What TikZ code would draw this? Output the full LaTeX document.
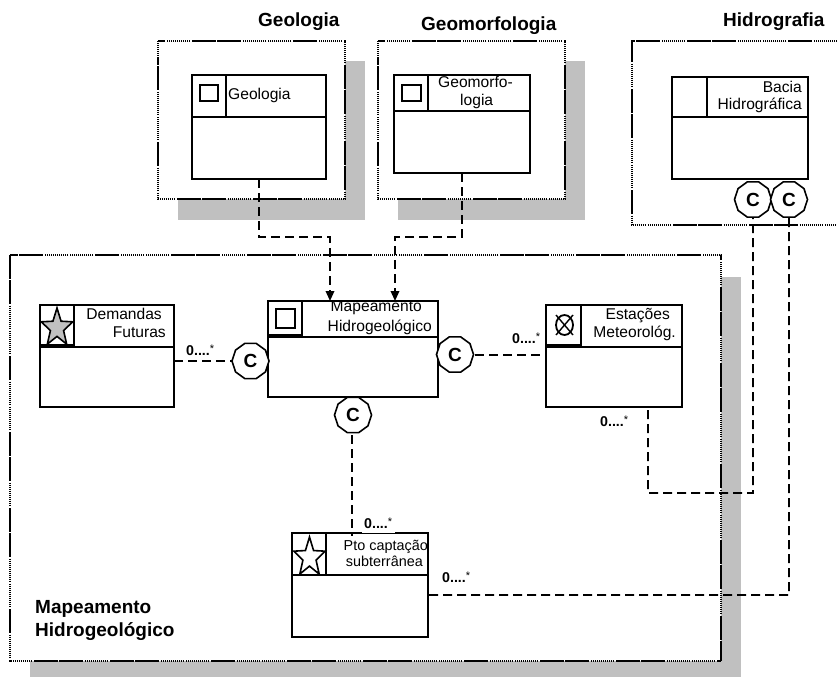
\documentclass[tikz,border=0pt]{standalone}
\usepackage{fontspec}
\setmainfont{Liberation Sans}
\usetikzlibrary{arrows.meta,shapes.geometric}
\definecolor{shadowgray}{RGB}{192,192,192}
\tikzset{
  x=1pt,y=-1pt,
  panelline/.style={line width=1.8pt,dash pattern=on 1.5pt off .5pt on 1.5pt off .5pt on 1.5pt off .5pt on 1.5pt off .5pt on 1.5pt off .5pt on 1.5pt off .5pt on 1.5pt off .5pt on 1.5pt off .5pt on 1.5pt off .5pt on 1.5pt off .5pt on 1.5pt off .5pt on 1.5pt off 1.8pt},
  classnode/.style={draw,line width=1.8pt,fill=white,inner sep=0pt,outer sep=0pt},
  classline/.style={line width=1.8pt},
  assoc/.style={line width=1.8pt,dash pattern=on 9pt off 5pt},
  assocarrow/.style={assoc,-{Triangle[length=10pt,width=8.5pt]}},
  ctag/.style={draw,fill=white,regular polygon,regular polygon sides=10,minimum size=37pt,inner sep=0pt,outer sep=0pt,line width=1.6pt,font=\fontsize{19}{20}\selectfont\bfseries},
  cls/.style={anchor=base east,inner sep=0pt,font=\fontsize{15.6}{17}\selectfont},
  clsl/.style={anchor=base west,inner sep=0pt,font=\fontsize{15.6}{17}\selectfont},
  ttl/.style={anchor=base west,inner sep=0pt,font=\fontsize{19}{22}\selectfont\bfseries},
  mult/.style={anchor=base west,inner sep=0pt,font=\fontsize{14.2}{16}\selectfont\bfseries},
}
\newcommand{\mstar}{0....\raisebox{2.5pt}{\fontsize{11}{11}\selectfont\mdseries *}}
\newcommand{\classbox}[8]{%
  \pgfmathsetmacro\myx{(#2+#4)/2}\pgfmathsetmacro\myy{(#3+#5)/2}%
  \pgfmathsetmacro\myw{#4-#2}\pgfmathsetmacro\myh{#5-#3}%
  \node[classnode,minimum width=\myw pt,minimum height=\myh pt] (#1) at (\myx,\myy) {};%
  \draw[classline] (#2,#7) -- (#4,#7);%
  \draw[classline] (#2,#3) rectangle (#6,#8);%
}
\newcommand{\starshape}[5]{% cx cy rx ry fill
  \draw[line width=1.6pt,fill=#5,line join=miter]
    plot[samples at={0,...,9},variable=\k]
    ({#1+#3*(mod(\k,2)==0?1:0.42)*sin(36*\k)},{#2-#4*(mod(\k,2)==0?1:0.42)*cos(36*\k)}) -- cycle;%
}
\begin{document}
\begin{tikzpicture}
\useasboundingbox (0,0) rectangle (837,677);
% shadows
\fill[shadowgray] (178,61) rectangle (365,220);
\fill[shadowgray] (398,61) rectangle (585,220);
\fill[shadowgray] (30,277) rectangle (741,677);
% panels
\draw[panelline,fill=white] (158,41) rectangle (345,199);
\draw[panelline,fill=white] (378,41) rectangle (565,199);
\draw[panelline] (837,41) -- (632,41) -- (632,225) -- (837,225);
\draw[panelline,fill=white] (10,255) rectangle (721,661);
% titles
\node[ttl] (t1) at (258,27) {Geologia};
\node[ttl] (t2) at (421,31) {Geomorfologia};
\node[ttl] (t3) at (723,27) {Hidrografia};
\node[ttl] (t4) at (35,613) {Mapeamento};
\node[ttl] (t5) at (35,636) {Hidrogeológico};
% classes
\classbox{geo}{192}{75}{326}{179}{226}{117}{117}
\classbox{gmf}{394}{75}{530}{173}{428}{111}{111}
\classbox{bac}{672}{77}{808}{179}{707}{117}{117}
\classbox{dem}{40}{305}{174}{407}{74}{347}{345}
\classbox{map}{268}{301}{438}{397}{302}{337}{335}
\classbox{est}{546}{305}{682}{407}{581}{347}{345}
\classbox{pto}{292}{533}{428}{637}{326}{575}{575}
% class icons
\draw[classline] (200,85) rectangle (218,101);
\draw[classline] (402,85) rectangle (421,101);
\draw[classline] (276,309) rectangle (295,328);
\starshape{57}{328}{16.5}{20}{shadowgray}
\starshape{309.5}{557.5}{16.5}{20.5}{white}
\draw[classline] (564.5,325) ellipse (8.5 and 10);
\draw[line width=1.4pt] (556,315) -- (573,335) (573,315) -- (556,335);
% class labels
\node[clsl] (a1) at (228,99) {Geologia};
\node[clsl] (a2) at (438,87) {Geomorfo-};
\node[clsl] (a3) at (460,105) {logia};
\node[cls] (a4) at (802,92) {Bacia};
\node[cls] (a5) at (802,109) {Hidrográfica};
\node[cls] (a6) at (162,319) {Demandas};
\node[cls] (a7) at (166,337) {Futuras};
\node[cls] (a8) at (422,311) {Mapeamento};
\node[cls] (a9) at (432,331) {Hidrogeológico};
\node[cls] (a10) at (670,319) {Estações};
\node[cls] (a11) at (676,337) {Meteorológ.};
\node[cls,font=\fontsize{14.4}{17}\selectfont] (a12) at (428,550) {Pto captação};
\node[cls,font=\fontsize{14.4}{17}\selectfont] (a13) at (423,566) {subterrânea};
% C tags
\node[ctag] (c1) at (753,199.5) {C};
\node[ctag] (c2) at (789,199.5) {C};
\node[ctag] (c3) at (250.5,361) {C};
\node[ctag] (c4) at (455,354.5) {C};
\node[ctag] (c5) at (353,415) {C};
% bend points and free ends
\coordinate (b1) at (259,237);
\coordinate (b2) at (330,237);
\coordinate (b3) at (462,237);
\coordinate (b4) at (395,237);
\coordinate (e1) at (330,301);
\coordinate (e2) at (395,301);
\coordinate (s1) at (648,410);
\coordinate (b5) at (648,493);
\coordinate (b6) at (753,493);
\coordinate (b7) at (789,595);
\coordinate (s2) at (429,595);
\coordinate (e3) at (174,361);
\coordinate (e4) at (546,355);
\coordinate (s3) at (475,355);
\coordinate (e5) at (352,536);
\coordinate (s4) at (352,435);
\coordinate (s5) at (233,361);
% connectors
\draw[assocarrow] (geo.south) -- (b1) -- (b2) -- (e1);
\draw[assocarrow] (gmf.south) -- (b3) -- (b4) -- (e2);
\draw[assoc] (e3) -- (s5);
\draw[assoc] (s3) -- (e4);
\draw[assoc] (s4) -- (e5);
\draw[assoc] (s1) -- (b5) -- (b6) -- (c1.south);
\draw[assoc] (s2) -- (b7) -- (c2.south);
% multiplicities
\fill[white] (362,512) rectangle (395,533);
\node[mult] (m1) at (186,355) {\mstar};
\node[mult] (m2) at (512,343) {\mstar};
\node[mult] (m3) at (600,426) {\mstar};
\node[mult] (m4) at (364,528) {\mstar};
\node[mult] (m5) at (442,582) {\mstar};
\end{tikzpicture}
\end{document}
